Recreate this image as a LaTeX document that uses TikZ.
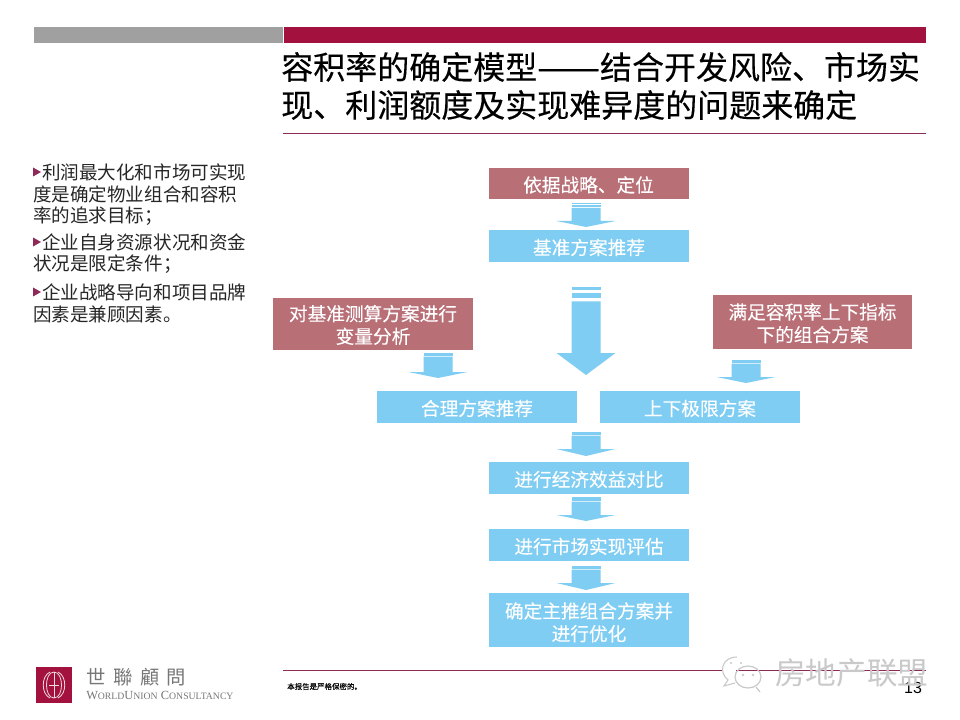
\documentclass[tikz,border=0pt]{standalone}
\usepackage{fontspec}
\setmainfont{Noto Sans CJK SC}
\newfontfamily\titlefont[FakeBold=0.25]{Noto Sans CJK SC}
\newfontfamily\boxfont[FakeBold=0.15]{Noto Sans CJK SC}
\newfontfamily\latinserif{Liberation Serif}
\newfontfamily\latinsans{Liberation Sans}
\definecolor{crim}{HTML}{A3123F}
\definecolor{crimline}{HTML}{8E2A58}
\definecolor{barg}{HTML}{A0A0A0}
\definecolor{rosebox}{HTML}{B96F76}
\definecolor{bluebox}{HTML}{7FCDF2}
\definecolor{wmark}{HTML}{C9C9C9}
\definecolor{logog}{HTML}{777777}
\newcommand{\fs}[1]{\fontsize{#1}{#1}\selectfont}
\newcommand{\tall}[1]{\rule{0pt}{#1pt}}
% block arrow: centre x, stripe tops, shaft top, head top, tip
\newcommand{\blockarrow}[8]{%
  \fill[bluebox] (#1-14.5,#2) rectangle (#1+14.5,#3);
  \fill[bluebox] (#1-14.5,#4) rectangle (#1+14.5,#5);
  \fill[bluebox] (#1-14.5,#6) -- (#1+14.5,#6) -- (#1+14.5,#7) -- (#1+29.5,#7) -- (#1,#8) -- (#1-29.5,#7) -- (#1-14.5,#7) -- cycle;
}
\tikzset{
  flowbox/.style={inner sep=0pt, minimum width=150pt, align=center, text=white, font=\boxfont\fs{14}},
  rosenode/.style={flowbox, fill=rosebox},
  bluenode/.style={flowbox, fill=bluebox},
  onerow/.style={minimum height=24pt, text height=14pt},
  tworow/.style={minimum height=39.5pt},
  titletext/.style={anchor=west, inner sep=0pt, font=\titlefont\fs{24}, text=black},
  sidetext/.style={anchor=west, inner sep=0pt, font=\fs{13.9}, text=black!85},
  bullet/.style={fill=crimline},
  rule/.style={draw=crimline, line width=0.6pt},
  wmarktext/.style={anchor=west, inner sep=0pt, font=\fs{23}, text=wmark}
}
\begin{document}
\begin{tikzpicture}[x=0.75pt,y=-0.75pt]
\useasboundingbox (0,0) rectangle (960,720);
\fill[white] (0,0) rectangle (960,720);
% header bars
\fill[barg] (34,27) rectangle (283,43);
\fill[crim] (284,27) rectangle (926,43);
% title
\node[titletext] (t1) at (281,67) {容积率的确定模型\scalebox{1.17}[1]{——}结合开发风险、市场实};
\node[titletext] (t2) at (281,105) {现、利润额度及实现难异度的问题来确定};
\draw[rule] (283,133) -- (926,133);
% side text
\foreach \yy in {172,242,292}{\fill[bullet] (33,\yy-4.5) -- (41,\yy) -- (33,\yy+4.5) -- cycle;}
\node[sidetext] (s1) at (42,172) {利润最大化和市场可实现};
\node[sidetext] (s2) at (33,194) {度是确定物业组合和容积};
\node[sidetext] (s3) at (33,216) {率的追求目标；};
\node[sidetext] (s4) at (42,242) {企业自身资源状况和资金};
\node[sidetext] (s5) at (33,264) {状况是限定条件；};
\node[sidetext] (s6) at (42,292) {企业战略导向和项目品牌};
\node[sidetext] (s7) at (33,314) {因素是兼顾因素。};
% flow boxes
\node[rosenode,onerow,minimum height=23.5pt] (a) at (588.5,183.5) {依据战略、定位};
\node[bluenode,onerow] (b) at (589,246) {基准方案推荐};
\node[rosenode,tworow,minimum height=39pt] (c) at (373,324) {\tall{13.3}对基准测算方案进行\\[3pt]变量分析};
\node[rosenode,tworow,minimum width=149.5pt,minimum height=40.5pt] (d) at (812.5,322) {\tall{13.8}满足容积率上下指标\\[3pt]下的组合方案};
\node[bluenode,onerow] (e) at (477,407) {合理方案推荐};
\node[bluenode,onerow] (f) at (700,407) {上下极限方案};
\node[bluenode,onerow] (g) at (589,478) {进行经济效益对比};
\node[bluenode,onerow] (h) at (589,545) {进行市场实现评估};
\node[bluenode,tworow,minimum height=40.5pt] (i) at (589,620) {\tall{15.3}确定主推组合方案并\\[3pt]进行优化};
% block arrows
\blockarrow{586}{203}{204.5}{205.2}{207.2}{208}{221}{227}
\blockarrow{586}{287.5}{290}{293}{298}{301.5}{353}{375}
\blockarrow{438}{353}{354.5}{355.2}{356}{356.7}{372}{378}
\blockarrow{746}{360}{361.5}{362.2}{363}{363.7}{377}{383}
\blockarrow{586}{432}{433.5}{434.2}{435}{435.7}{449}{456}
\blockarrow{586}{497}{498.5}{499.2}{501}{501.7}{515}{521}
\blockarrow{586}{566}{567.5}{568.2}{569}{569.7}{583}{590}
% footer
\draw[rule] (283,670) -- (926,670);
\node[anchor=west,inner sep=0pt,font=\boxfont\fs{5.6},text=black] (conf) at (287,686.5) {本报告是严格保密的。};
\node[anchor=center,inner sep=0pt,font=\latinsans\fs{12},text=black] (pg) at (913,688) {13};
% logo
\fill[crim] (36,667) rectangle (72,703);
\draw[white!85!crim,line width=0.6pt] (54,672) -- (54,698);
\draw[white!85!crim,line width=0.6pt] (54,672) .. controls (44,672) and (44,698) .. (54,698);
\draw[white!85!crim,line width=0.6pt] (54,672) .. controls (64,672) and (64,698) .. (54,698);
\draw[white!85!crim,line width=0.6pt] (50,672) .. controls (41,676) and (41,694) .. (50,698);
\draw[white!85!crim,line width=0.6pt] (58,672) .. controls (67,676) and (67,694) .. (58,698);
\draw[white!85!crim,line width=0.6pt] (49,685) -- (59,685);
\node[anchor=center,inner sep=0pt,font=\fs{14.5},text=logog] (l1) at (136.5,677) {世\hspace{5.5pt}聯\hspace{5.5pt}顧\hspace{5.5pt}問};
\node[anchor=west,inner sep=0pt,font=\latinserif\fs{7.3},text=logog] (l2) at (86,695.5) {{\fs{9.3}W}ORLD{\fs{9.3}U}NION\hspace{2.4pt}{\fs{9.3}C}ONSULTANCY};
% watermark
\draw[wmark,line width=0.8pt,fill=white] (737,657) .. controls (722,657) and (718,672) .. (728,680) -- (724,686) -- (735,683);
\draw[wmark,line width=0.9pt] (748,677) ellipse (13 and 11);
\draw[wmark,line width=0.9pt] (756,687) -- (760,692);
\fill[wmark] (743,675) circle (1.3);
\fill[wmark] (753,675) circle (1.3);
\fill[wmark] (731,663) circle (1.1);
\fill[wmark] (741,663) circle (1.1);
\node[wmarktext] (wm) at (775,673) {房地产联盟};
\end{tikzpicture}
\end{document}
